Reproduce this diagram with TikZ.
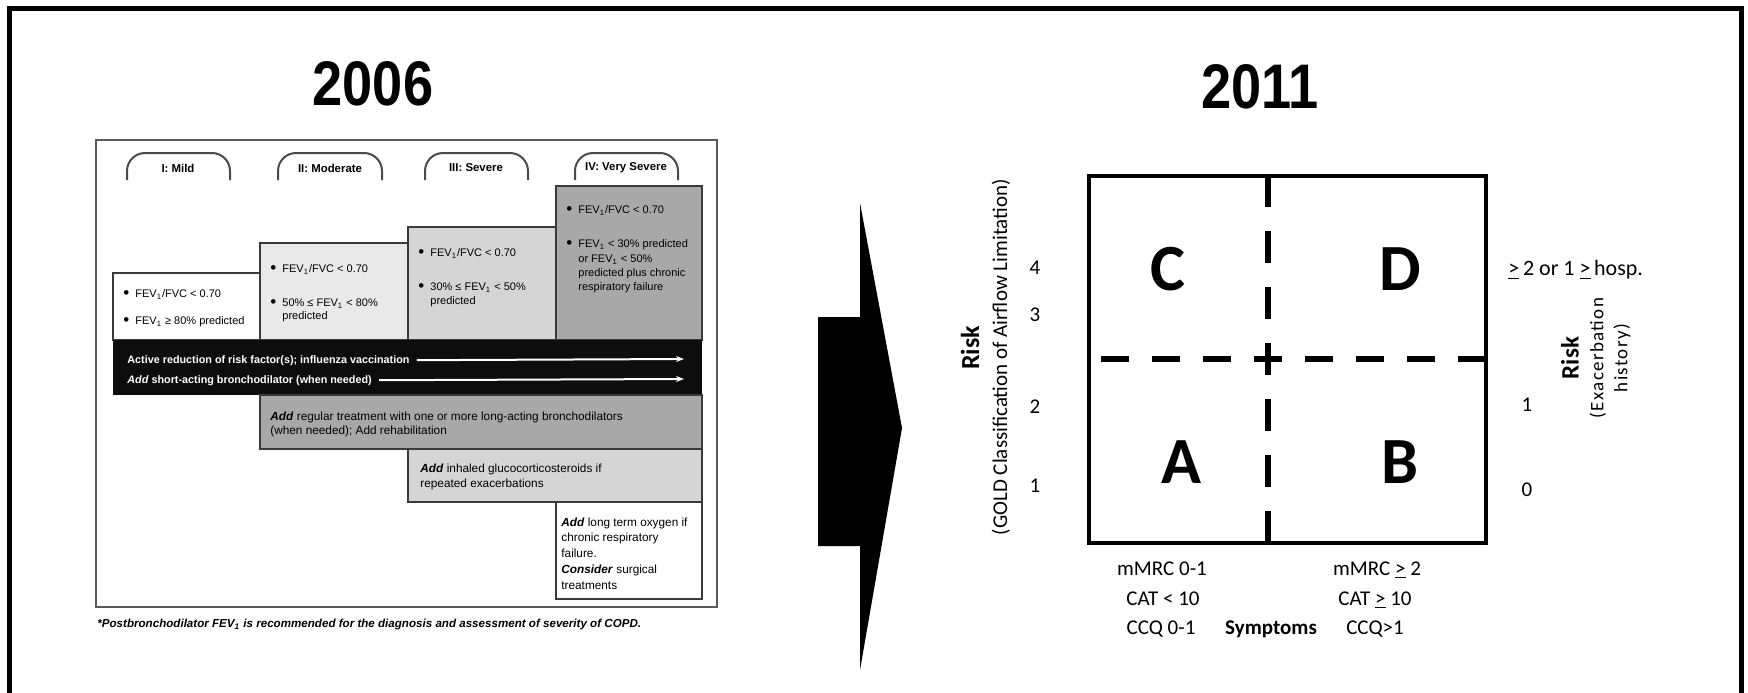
\documentclass[tikz,border=0pt]{standalone}
\usepackage{fontspec}
\setmainfont{Liberation Sans}
\newfontfamily\calfont{Carlito}
\newfontfamily\calspaced[LetterSpace=7]{Carlito}
\newfontfamily\titlefont[FakeStretch=0.86]{Liberation Sans}
\usetikzlibrary{arrows.meta}
\definecolor{boxII}{HTML}{E9E9E9}
\definecolor{boxIII}{HTML}{D5D5D5}
\definecolor{boxIV}{HTML}{A8A8A8}
\definecolor{bandblack}{HTML}{0D0D0D}
\definecolor{boxline}{HTML}{3A3A3A}
\definecolor{tabgray}{HTML}{4A4A4A}
\definecolor{chartframe}{HTML}{5A5A5A}
\newcommand\FEVi{FEV\textsubscript{1}}
\newcommand\bul{\makebox[6pt][l]{\raisebox{-0.6pt}{\fontsize{8.5}{8.5}\selectfont\textbullet}}}
\newcommand\addit{\textbf{\textit{Add}}}
\newcommand\ulge{\underline{>}}
\tikzset{
  crit/.style={anchor=base west, inner sep=0pt, font=\fontsize{5.5}{6.5}\selectfont},
  treat/.style={anchor=base west, inner sep=0pt, font=\fontsize{5.9}{7}\selectfont},
  bandtxt/.style={anchor=base west, inner sep=0pt, text=white, font=\bfseries\fontsize{5.4}{6}\selectfont},
  tablbl/.style={inner sep=0pt, font=\bfseries\fontsize{5.7}{6.5}\selectfont},
  tabline/.style={draw=tabgray, line width=1pt, rounded corners=9pt},
  stepbox/.style={draw=boxline, line width=1pt},
  warrow/.style={draw=white, line width=1pt, shorten <=3.5pt, -{Stealth[length=4pt,width=3pt]}},
  cal/.style={font=\calfont\fontsize{10.5}{12}\selectfont, inner sep=0pt},
  calb/.style={font=\calfont\bfseries\fontsize{10.5}{12}\selectfont, inner sep=0pt},
  letter/.style={font=\calfont\bfseries\fontsize{33}{36}\selectfont, inner sep=0pt},
  titletxt/.style={font=\titlefont\bfseries\fontsize{31.5}{36}\selectfont, inner sep=0pt},
  hdash/.style={line width=2.75pt, dash pattern=on 14pt off 11.5pt, dash phase=7pt},
  vdash/.style={line width=2.75pt, dash pattern=on 16pt off 12pt, dash phase=8pt},
}
\begin{document}
\begin{tikzpicture}[x=0.5pt,y=-0.5pt]
\useasboundingbox (0,0) rectangle (1748,692);
\fill[white] (0,0) rectangle (1748,692);
\begin{scope}
\clip (0,0) rectangle (1748,692);
\draw[line width=2.5pt] (9,710) -- (9,8) -- (1741,8) -- (1741,710);
\end{scope}

% titles
\node[titletxt] (t2006) at (373,84) {2006};
\node[titletxt] (t2011) at (1260,87) {2011};

% ---------- 2006 chart ----------
\draw[draw=chartframe, line width=1pt] (96,140) rectangle (717,607);

% tabs
\draw[tabline] (127,180) -- (127,153) -- (230,153) -- (230,180);
\draw[tabline] (278,180) -- (278,153) -- (382,153) -- (382,180);
\draw[tabline] (425,180) -- (425,153) -- (528,153) -- (528,180);
\draw[tabline] (575,180) -- (575,153) -- (678,153) -- (678,180);
\node[tablbl] (tab1) at (178,168) {I: Mild};
\node[tablbl] (tab2) at (330,168) {II: Moderate};
\node[tablbl] (tab3) at (476,168) {III: Severe};
\node[tablbl] (tab4) at (626,168) {IV: Very Severe};

% stage boxes
\draw[stepbox, fill=white] (113,273) rectangle (260,340);
\draw[stepbox, fill=boxII] (260,243) rectangle (408,340);
\draw[stepbox, fill=boxIII] (408,227) rectangle (556,340);
\draw[stepbox, fill=boxIV] (556,186) rectangle (702,340);
\fill[bandblack] (113,340) rectangle (702,395);
\draw[stepbox, fill=boxIV] (260,395) rectangle (702,449);
\draw[stepbox, fill=boxIII] (408,449) rectangle (702,502);
\draw[stepbox, fill=white] (556,502) rectangle (702,599);

% stage I
\node[crit] (s1a) at (123,297) {\bul\FEVi/FVC < 0.70};
\node[crit] (s1b) at (123,324) {\bul\FEVi{} ≥ 80\% predicted};
% stage II
\node[crit] (s2a) at (270,272) {\bul\FEVi/FVC < 0.70};
\node[crit] (s2b) at (270,306) {\bul 50\% ≤ \FEVi{} < 80\%};
\node[crit] (s2c) at (282,319) {predicted};
% stage III
\node[crit] (s3a) at (418,256) {\bul\FEVi/FVC < 0.70};
\node[crit] (s3b) at (418,290) {\bul 30\% ≤ \FEVi{} < 50\%};
\node[crit] (s3c) at (430,304) {predicted};
% stage IV
\node[crit] (s4a) at (566,213) {\bul\FEVi/FVC < 0.70};
\node[crit] (s4b) at (566,247) {\bul\FEVi{} < 30\% predicted};
\node[crit] (s4c) at (578,262) {or \FEVi{} < 50\%};
\node[crit] (s4d) at (578,276) {predicted plus chronic};
\node[crit] (s4e) at (578,290) {respiratory failure};

% band
\node[bandtxt] (band1) at (127,363) {Active reduction of risk factor(s); influenza vaccination};
\node[bandtxt] (band2) at (127,383) {\textit{Add} short-acting bronchodilator (when needed)};
\coordinate (band1end) at (684,359);
\coordinate (band2end) at (684,379);
\draw[warrow] (band1.east) -- (band1end);
\draw[warrow] (band2.east) -- (band2end);

% treatments
\node[treat] (tr1a) at (270,420) {\addit{} regular treatment with one or more long-acting bronchodilators};
\node[treat] (tr1b) at (270,434) {(when needed); Add rehabilitation};
\node[treat] (tr2a) at (420,472) {\addit{} inhaled glucocorticosteroids if};
\node[treat] (tr2b) at (420,487) {repeated exacerbations};
\node[treat] (tr3a) at (561,526) {\addit{} long term oxygen if};
\node[treat] (tr3b) at (561,541) {chronic respiratory};
\node[treat] (tr3c) at (561,557) {failure.};
\node[treat] (tr3d) at (561,573) {\textbf{\textit{Consider}} surgical};
\node[treat] (tr3e) at (561,589) {treatments};

\node[anchor=base west, inner sep=0pt, font=\bfseries\itshape\fontsize{5.8}{6.5}\selectfont] (foot) at (97,627)
  {*Postbronchodilator \FEVi{} is recommended for the diagnosis and assessment of severity of COPD.};

% ---------- big arrow ----------
\fill[black] (860,203) -- (902,428) -- (860,670) -- (860,546) -- (818,546) -- (818,317) -- (860,317) -- cycle;

% ---------- 2011 grid ----------
\coordinate (gc) at (1268,359);
\coordinate (gtop) at (1268,176);
\coordinate (gbot) at (1268,543);
\coordinate (gleft) at (1089,359);
\coordinate (gright) at (1486,359);
\draw[hdash] (gc) -- (gright);
\draw[hdash] (gc) -- (gleft);
\draw[vdash] (gc) -- (gtop);
\draw[vdash] (gc) -- (gbot);
\draw[line width=2.25pt] (1089,176) rectangle (1486,543);

\node[letter] (qC) at (1168,269) {C};
\node[letter] (qD) at (1400,269) {D};
\node[letter] (qA) at (1181,462) {A};
\node[letter] (qB) at (1400,462) {B};

% left axis
\node[cal, rotate=90, font=\calfont\bfseries\fontsize{13}{15}\selectfont] (riskL) at (970,348) {Risk};
\node[cal, rotate=90] (goldL) at (1001,357) {(GOLD Classification of Airflow Limitation)};
\node[cal] (n4) at (1035,268) {4};
\node[cal] (n3) at (1035,315) {3};
\node[cal] (n2) at (1035,407) {2};
\node[cal] (n1) at (1035,486) {1};

% right axis
\node[cal, anchor=west, font=\calfont\fontsize{11}{12}\selectfont] (hosp) at (1508,270) {\ulge\,2 or 1 \ulge\,hosp.};
\node[cal] (r1) at (1527,405) {1};
\node[cal] (r0) at (1527,490) {0};
\node[cal, rotate=90, font=\calfont\bfseries\fontsize{12.5}{14}\selectfont] (riskR) at (1570,358) {Risk};
\node[cal, rotate=90, align=center, font=\calspaced\fontsize{9.5}{12}\selectfont] (exacR) at (1610,358) {(Exacerbation\\history)};

% bottom axis
\node[cal, anchor=base] (m1) at (1162,575) {mMRC 0-1};
\node[cal, anchor=base] (c1) at (1163,605) {CAT < 10};
\node[cal, anchor=base] (q1) at (1161,634) {CCQ 0-1};
\node[calb, anchor=base] (sym) at (1271,634) {Symptoms};
\node[cal, anchor=base] (m2) at (1377,575) {mMRC \ulge\ 2};
\node[cal, anchor=base] (c2) at (1375,605) {CAT \ulge\ 10};
\node[cal, anchor=base] (q2) at (1375,634) {CCQ>1};
\end{tikzpicture}
\end{document}
